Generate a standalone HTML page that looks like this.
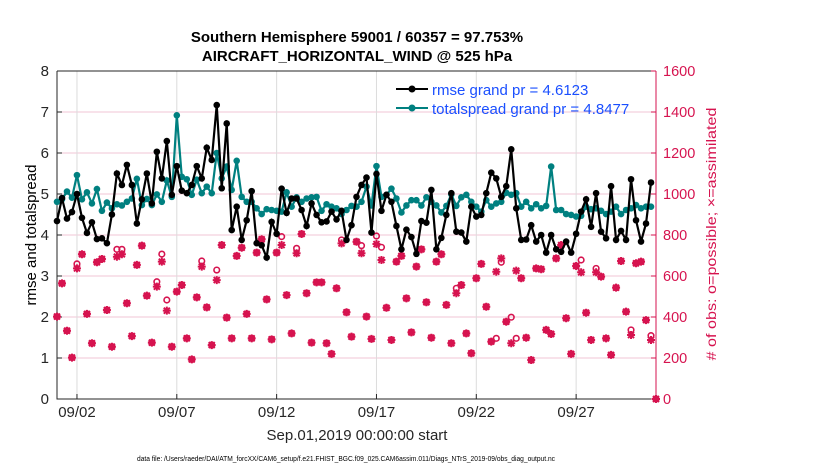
<!DOCTYPE html>
<html><head><meta charset="utf-8"><style>
html,body{margin:0;padding:0;background:#fff;}
svg{display:block;font-family:"Liberation Sans",Arial,sans-serif;}
</style></head><body>
<svg id="chart" width="830" height="470" viewBox="0 0 830 470">
<text x="357" y="42" text-anchor="middle" font-size="15" font-weight="bold">Southern Hemisphere 59001 / 60357 = 97.753%</text>
<text x="357" y="61" text-anchor="middle" font-size="15" font-weight="bold">AIRCRAFT_HORIZONTAL_WIND @ 525 hPa</text>
<g id="grid"></g>
<g id="axes"></g>
<g id="obs"></g>
<g id="series"></g>
<text transform="translate(36,235) rotate(-90)" text-anchor="middle" font-size="15">rmse and totalspread</text>
<text transform="translate(716,234) rotate(-90)" text-anchor="middle" font-size="14" textLength="253" lengthAdjust="spacingAndGlyphs" fill="#d6134f"># of obs: o=possible; ×=assimilated</text>
<text x="357" y="440" text-anchor="middle" font-size="15" fill="#262626">Sep.01,2019 00:00:00 start</text>
<text x="137" y="461" font-size="7" textLength="418" lengthAdjust="spacingAndGlyphs" fill="#000">data file: /Users/raeder/DAI/ATM_forcXX/CAM6_setup/f.e21.FHIST_BGC.f09_025.CAM6assim.011/Diags_NTrS_2019-09/obs_diag_output.nc</text>
<g>
  <line x1="396" y1="89" x2="428" y2="89" stroke="#000" stroke-width="2"/>
  <circle cx="412" cy="89" r="3.5" fill="#000"/>
  <text x="432" y="95" font-size="15" fill="#1a4fff">rmse grand pr = 4.6123</text>
  <line x1="396" y1="108" x2="428" y2="108" stroke="#008080" stroke-width="2"/>
  <circle cx="412" cy="108" r="3.5" fill="#008080"/>
  <text x="432" y="114" font-size="15" fill="#1a4fff">totalspread grand pr = 4.8477</text>
</g>
</svg>
<script>
const rmse = [4.34,4.9,4.4,4.56,5.0,4.42,4.05,4.31,3.9,3.92,3.8,4.5,5.5,5.22,5.71,5.22,4.28,4.87,5.5,4.77,6.03,5.38,6.29,4.98,5.68,5.08,5.02,5.22,5.68,5.38,6.13,5.83,7.17,5.14,6.72,4.12,4.69,3.88,4.36,5.07,
3.8,3.75,3.45,4.32,4.03,5.13,4.54,4.89,4.89,4.61,4.22,4.77,4.49,4.31,4.33,4.57,4.38,4.59,3.88,4.24,4.93,5.22,5.4,4.06,5.49,4.59,4.98,4.81,4.22,3.65,4.13,3.95,3.54,4.34,4.3,5.1,3.65,3.93,4.49,5.02,4.08,
4.06,3.84,4.69,4.45,4.49,5.02,5.52,5.38,4.93,5.19,6.09,4.65,3.88,3.89,4.24,3.84,4.0,3.57,4.0,3.65,3.59,3.84,3.57,4.03,4.57,4.87,4.2,5.02,4.08,3.92,5.19,3.88,4.1,3.88,5.36,4.36,3.84,4.28,5.28];
const spread = [4.81,4.87,5.06,4.91,5.46,4.87,5.04,4.77,5.12,4.59,4.79,4.65,4.75,4.72,4.81,4.89,5.37,4.73,4.88,4.73,4.99,4.81,5.33,4.93,6.92,5.42,5.36,4.98,5.35,5.02,5.18,5.02,6.0,5.38,5.67,5.1,5.81,4.93,4.81,4.81,
4.65,4.51,4.63,4.61,4.59,4.57,5.04,4.69,4.92,4.81,4.89,4.92,4.93,4.59,4.75,4.69,4.65,4.51,4.61,4.71,4.69,4.81,5.18,4.72,5.68,4.93,4.98,5.13,4.89,4.55,4.72,4.85,4.85,4.72,4.92,4.81,4.72,4.55,4.71,4.99,4.71,
4.92,4.98,4.81,4.69,4.57,4.85,4.69,4.77,4.81,5.03,4.98,5.02,4.69,4.81,4.65,4.75,4.65,4.71,5.67,4.61,4.61,4.51,4.49,4.45,4.47,4.69,4.63,4.65,4.59,4.51,4.57,4.69,4.51,4.61,4.65,4.73,4.65,4.69,4.69];
const assimilated = [402,564,333,202,637,706,415,272,667,683,434,255,694,706,467,307,654,748,504,275,548,670,431,255,524,556,296,193,496,646,447,263,580,751,397,296,698,738,415,296,
714,779,486,291,714,751,507,320,711,805,516,275,569,569,272,220,540,759,423,304,767,711,402,293,756,678,445,288,670,698,491,325,646,730,472,299,670,706,459,272,516,
556,320,223,589,659,450,280,621,686,377,272,626,589,299,190,637,633,337,317,686,751,394,220,649,618,421,288,618,597,296,215,543,673,426,312,662,670,385,288,0];
const possible = [402,564,333,202,659,706,415,272,667,683,434,255,730,730,467,307,654,748,504,275,572,707,483,255,524,556,296,193,496,673,447,263,629,751,397,296,698,738,415,296,
714,779,486,291,714,792,507,320,735,805,516,275,569,569,272,220,540,776,423,304,767,748,402,293,795,740,445,288,670,698,491,325,646,730,472,299,670,706,459,272,540,
556,320,223,589,659,450,280,296,667,377,399,296,589,299,190,637,633,337,317,686,751,394,220,649,678,421,288,637,597,296,215,543,673,426,337,662,670,385,309,0];
const leftTicks = [0,1,2,3,4,5,6,7,8];
const rightTicks = [0,200,400,600,800,1000,1200,1400,1600];
const dateTicks = [1,6,11,16,21,26];
const dateLabels = ["09/02","09/07","09/12","09/17","09/22","09/27"];

const NS="http://www.w3.org/2000/svg";
const X0=57,X1=656,Y0=399,Y1=71;
const xs = d => X0 + (d/30)*(X1-X0);
const yl = v => Y0 - (v/8)*(Y0-Y1);
const yr = v => Y0 - (v/1600)*(Y0-Y1);
const dayOf = i => i*0.25;
function mk(tag, attrs, parent){const e=document.createElementNS(NS,tag);for(const k in attrs)e.setAttribute(k,attrs[k]);parent.appendChild(e);return e;}
const grid=document.getElementById('grid'), axes=document.getElementById('axes'), obs=document.getElementById('obs'), series=document.getElementById('series');

rightTicks.forEach(t=>{ if(t===0||t===1600) return;
  const l=mk('line',{x1:X0,x2:X1,y1:yr(t),y2:yr(t),stroke:'#f2c6d6','stroke-width':1},grid);
  
  
});
dateTicks.forEach(d=>{
  const l=mk('line',{x1:xs(d),x2:xs(d),y1:Y1,y2:Y0,stroke:'#dcdcdc','stroke-width':1},grid);
  
  
});
const fr=mk('path',{d:`M${X0},${Y1} L${X0},${Y0} L${X1},${Y0} M${X0},${Y1} L${X1},${Y1}`,stroke:'#262626','stroke-width':1,fill:'none'},axes);


const ra=mk('line',{x1:X1,x2:X1,y1:Y1,y2:Y0,stroke:'#d6134f','stroke-width':1},axes);


leftTicks.forEach(t=>{
  mk('line',{x1:X0,x2:X0+5,y1:yl(t),y2:yl(t),stroke:'#262626'},axes);
  const tx=mk('text',{x:X0-8,y:yl(t)+5,'text-anchor':'end','font-size':15,fill:'#262626'},axes);
  tx.textContent=t;
  
  
});
rightTicks.forEach(t=>{
  mk('line',{x1:X1-5,x2:X1,y1:yr(t),y2:yr(t),stroke:'#d6134f'},axes);
  const tx=mk('text',{x:X1+7,y:yr(t)+5,'font-size':14.5,fill:'#d6134f'},axes);
  tx.textContent=t;
  
  
});
dateTicks.forEach((d,i)=>{
  mk('line',{x1:xs(d),x2:xs(d),y1:Y0,y2:Y0-5,stroke:'#262626'},axes);
  const tx=mk('text',{x:xs(d),y:Y0+18,'text-anchor':'middle','font-size':15,fill:'#262626'},axes);
  tx.textContent=dateLabels[i];
  
  
});
const C='#d6134f';
possible.forEach((v,i)=>{
  const c=mk('circle',{cx:xs(dayOf(i)),cy:yr(v),r:2.8,fill:'none',stroke:C,'stroke-width':1.6},obs);
  
  
});
assimilated.forEach((v,i)=>{
  const x=xs(dayOf(i)),y=yr(v),r=4;
  const p=mk('path',{d:`M${x-r},${y}H${x+r}M${x},${y-r}V${y+r}M${x-3},${y-3}L${x+3},${y+3}M${x-3},${y+3}L${x+3},${y-3}`,stroke:C,'stroke-width':2},obs);
  
  
});
function drawSeries(vals,color,name){
  const pl=mk('polyline',{points:vals.map((v,i)=>xs(dayOf(i))+','+yl(v)).join(' '),fill:'none',stroke:color,'stroke-width':2.2},series);
  
  
  vals.forEach((v,i)=>{
    const c=mk('circle',{cx:xs(dayOf(i)),cy:yl(v),r:3.3,fill:color},series);
    
    
  });
}
drawSeries(spread,'#008080','totalspread');
drawSeries(rmse,'#000000','rmse');
</script>
</body></html>
